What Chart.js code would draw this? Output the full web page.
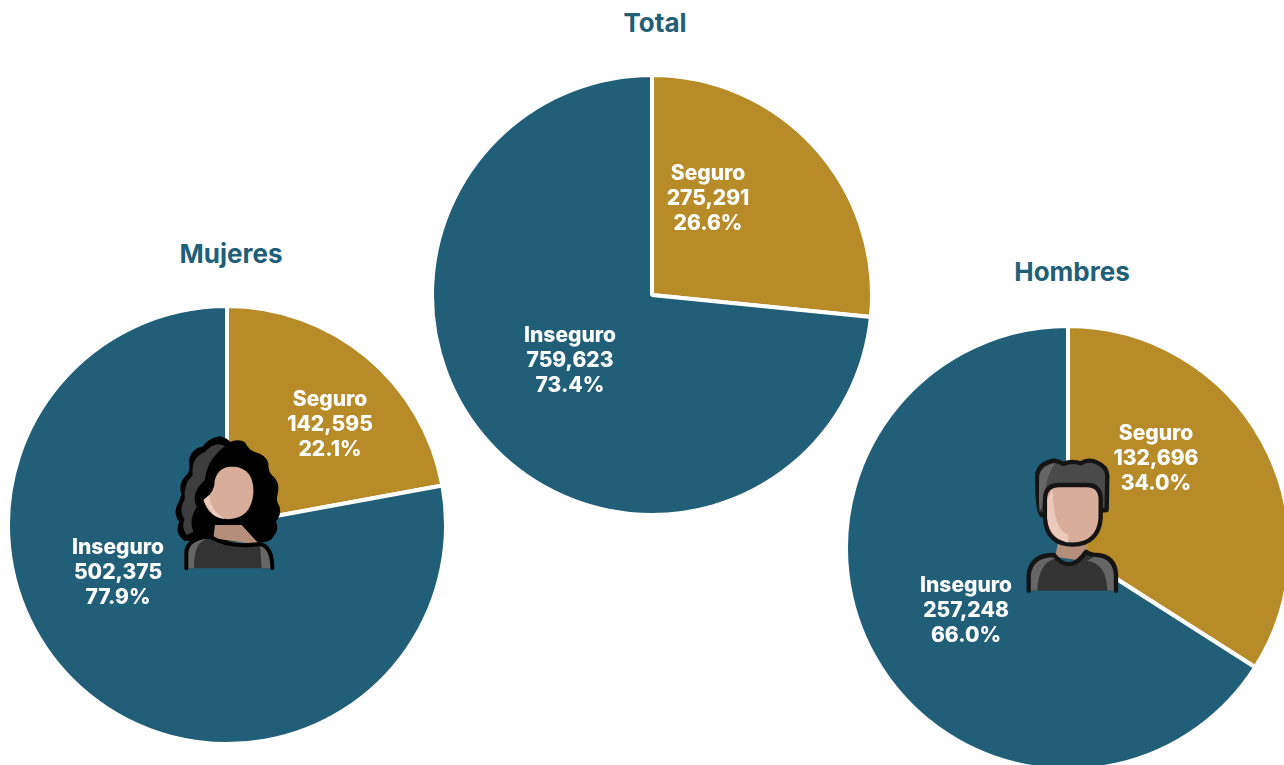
<!DOCTYPE html>
<html>
<head>
<meta charset="utf-8">
<script src="https://cdn.jsdelivr.net/npm/chart.js@4"></script>
<style>
  html, body { margin: 0; padding: 0; background: #fff; }
  body { width: 1284px; height: 765px; overflow: hidden; position: relative; font-family: Inter, sans-serif; }
  canvas { position: absolute; }
  .title { position: absolute; transform: translateX(-50%); color: #215f78; font-weight: 700; font-size: 26px; line-height: 30px; white-space: nowrap; }
  svg { position: absolute; }
</style>
</head>
<body>
<div class="title" style="left:655px;top:8px">Total</div>
<div class="title" style="left:231px;top:239px">Mujeres</div>
<div class="title" style="left:1072px;top:257px">Hombres</div>

<canvas id="chartTotal" style="left:430px;top:73px"></canvas>
<canvas id="chartMujeres" style="left:6px;top:304px"></canvas>
<canvas id="chartHombres" style="left:844px;top:324px"></canvas>

<svg style="left:160px;top:420px" width="140" height="170" viewBox="0 0 420 510">
  <path d="M75 355 Q50 335 66 305 Q48 285 56 262 Q66 245 72 222 Q60 195 82 172 Q100 160 94 120 Q100 90 132 86 Q150 60 180 56 Q200 60 208 74 Q235 62 250 72 Q262 95 280 102 Q312 110 318 130 Q318 160 332 172 Q355 190 345 225 Q340 245 352 262 Q358 285 340 302 Q352 330 335 345 Q325 362 300 358 Z" fill="#000" stroke="#000" stroke-width="14" stroke-linejoin="round"/>
  <path d="M80 345 Q62 322 74 298 Q54 272 74 238 Q70 190 98 166 Q92 112 135 96 Q165 62 195 78 Q140 120 135 180 Q90 220 110 260 Q85 300 100 335 Z" fill="#3d3d3d"/>
  <path d="M165 315 L245 315 L300 375 L160 355 Z" fill="#b48e7b"/>
  <path d="M79 445 L79 395 Q85 352 150 350 Q205 385 300 372 Q337 380 337 445 Z" fill="#333"/>
  <path d="M79 445 L79 395 Q85 352 150 350 L125 365 Q102 380 102 445 Z" fill="#666"/>
  <path d="M337 445 Q337 380 300 372 L305 445 Z" fill="#666"/>
  <path d="M79 445 L79 395 Q85 352 150 350 Q205 385 300 372 Q337 380 337 445" fill="none" stroke="#000" stroke-width="12" stroke-linecap="round" stroke-linejoin="round"/>
  <path d="M160 180 Q170 135 220 135 Q285 140 285 215 Q280 300 205 302 Q150 300 128 240 Q160 215 160 180 Z" fill="#d8ad99" stroke="#000" stroke-width="9"/>
  <path d="M148 224 Q150 270 195 297 Q150 295 130 240 Z" fill="#eccabb"/>
</svg>

<svg style="left:1010px;top:440px" width="130" height="170" viewBox="0 0 390 510">
  <path d="M95 225 Q80 210 82 100 Q90 75 112 68 Q135 55 160 72 Q185 60 212 70 Q235 55 262 68 Q290 80 292 105 L290 210 Z" fill="#4a4a4a" stroke="#141414" stroke-width="13" stroke-linejoin="round"/>
  <path d="M90 220 Q85 200 88 105 Q95 80 135 68 Q110 110 108 140 L100 180 Z" fill="#666"/>
  <path d="M145 305 L228 305 L235 365 L135 350 Z" fill="#b48e7b"/>
  <path d="M56 452 L56 405 Q62 345 132 345 Q180 405 228 335 Q240 345 262 345 Q316 350 318 405 L318 452 Z" fill="#333"/>
  <path d="M56 452 L56 405 Q62 345 132 345 L140 355 Q85 365 82 452 Z" fill="#666"/>
  <path d="M318 452 Q316 350 262 345 L232 362 Q290 370 292 452 Z" fill="#666"/>
  <path d="M56 452 L56 405 Q62 345 132 345 Q180 405 228 335 Q240 345 262 345 Q316 350 318 405 L318 452" fill="none" stroke="#141414" stroke-width="13" stroke-linecap="round" stroke-linejoin="round"/>
  <path d="M105 178 Q105 135 148 135 L230 135 Q272 135 272 178 L272 235 Q265 312 188 314 Q110 312 105 235 Z" fill="#d8ad99" stroke="#141414" stroke-width="13"/>
  <path d="M128 148 L112 178 L112 235 Q118 295 175 308 L175 285 Q130 270 128 148 Z" fill="#eccabb"/>
</svg>

<script>
var categories = ["Seguro", "Inseguro"];
var totalValues = [275291, 759623];
var mujeresValues = [142595, 502375];
var hombresValues = [132696, 257248];

var blue = "#215f78";
var gold = "#b78b27";

// label offsets from the pie centre, they are not on the arc middle in the original
var totalLabelPos = [[56, -96], [-82, 66]];
var mujeresLabelPos = [[103, -100], [-109, 48]];
var hombresLabelPos = [[88, -89], [-102, 63]];

var sliceLabels = {
  id: "sliceLabels",
  afterDatasetsDraw: function(chart, args, opts) {
    var ctx = chart.ctx;
    var values = chart.data.datasets[0].data;
    var sum = values[0] + values[1];
    ctx.save();
    ctx.fillStyle = "#fff";
    ctx.font = "800 21px Inter";
    ctx.textAlign = "center";
    ctx.textBaseline = "middle";
    chart.getDatasetMeta(0).data.forEach(function(arc, i) {
      var x = arc.x + opts.pos[i][0];
      var y = arc.y + opts.pos[i][1];
      ctx.fillText(chart.data.labels[i], x, y - 25);
      ctx.fillText(values[i].toLocaleString("en-US"), x, y);
      ctx.fillText((values[i] / sum * 100).toFixed(1) + "%", x, y + 25);
    });
    ctx.restore();
  }
};

function makePie(id, size, values, labelPos) {
  var canvas = document.getElementById(id);
  canvas.width = size;
  canvas.height = size;
  return new Chart(canvas.getContext("2d"), {
    type: "pie",
    data: {
      labels: categories,
      datasets: [{
        data: values,
        backgroundColor: [gold, blue],
        borderColor: "#fff",
        borderWidth: 4
      }]
    },
    options: {
      responsive: false,
      animation: false,
      plugins: {
        legend: { display: false },
        tooltip: { enabled: false },
        sliceLabels: { pos: labelPos }
      }
    },
    plugins: [sliceLabels]
  });
}

makePie("chartTotal", 444, totalValues, totalLabelPos);
makePie("chartMujeres", 442, mujeresValues, mujeresLabelPos);
makePie("chartHombres", 448, hombresValues, hombresLabelPos);
</script>
</body>
</html>
